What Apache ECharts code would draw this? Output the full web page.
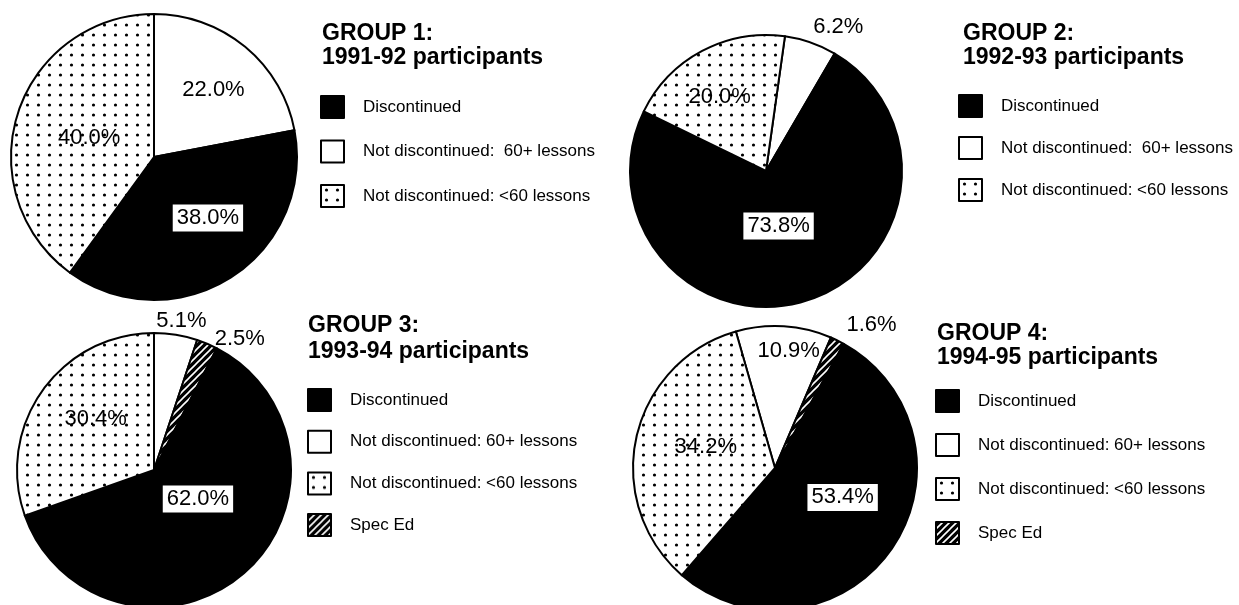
<!DOCTYPE html>
<html>
<head>
<meta charset="utf-8">
<script src="https://cdn.jsdelivr.net/npm/echarts@6/dist/echarts.min.js"></script>
<style>
  html, body { margin: 0; padding: 0; background: #fff; }
  #chart { width: 1239px; height: 605px; }
</style>
</head>
<body>
<div id="chart"></div>
<script>
// Group headings
const groupTitles = [
  'GROUP 1:\n1991-92 participants',
  'GROUP 2:\n1992-93 participants',
  'GROUP 3:\n1993-94 participants',
  'GROUP 4:\n1994-95 participants'
];

// Legend entries (groups 1-2 have three outcomes, groups 3-4 add Spec Ed)
const legendEarly = ['Discontinued', 'Not discontinued:  60+ lessons', 'Not discontinued: <60 lessons'];
const legendLate = ['Discontinued', 'Not discontinued: 60+ lessons', 'Not discontinued: <60 lessons', 'Spec Ed'];

// Slices listed clockwise from the starting edge, values in percent
const group1Names = [legendEarly[1], legendEarly[0], legendEarly[2]];
const group1Values = [22.0, 38.0, 40.0];

const group2Names = [legendEarly[1], legendEarly[0], legendEarly[2]];
const group2Values = [6.2, 73.8, 20.0];

const group3Names = [legendLate[1], legendLate[3], legendLate[0], legendLate[2]];
const group3Values = [5.1, 2.5, 62.0, 30.4];

const group4Names = [legendLate[1], legendLate[3], legendLate[0], legendLate[2]];
const group4Values = [10.9, 1.6, 53.4, 34.2];

// ---- fill patterns ----
function dotPattern() {
  const c = document.createElement('canvas');
  c.width = 11; c.height = 10;
  const g = c.getContext('2d');
  g.fillStyle = '#fff'; g.fillRect(0, 0, 11, 10);
  g.fillStyle = '#000';
  g.beginPath(); g.arc(5.5, 5, 1.6, 0, Math.PI * 2); g.fill();
  return { image: c, repeat: 'repeat' };
}
function hatchPattern() {
  const s = 7;
  const c = document.createElement('canvas');
  c.width = s; c.height = s;
  const g = c.getContext('2d');
  g.fillStyle = '#000'; g.fillRect(0, 0, s, s);
  g.strokeStyle = '#fff'; g.lineWidth = 1.6;
  g.beginPath();
  g.moveTo(0, s); g.lineTo(s, 0);
  g.moveTo(-1, 1); g.lineTo(1, -1);
  g.moveTo(s - 1, s + 1); g.lineTo(s + 1, s - 1);
  g.stroke();
  return { image: c, repeat: 'repeat' };
}
const DOTS = dotPattern();
const HATCH = hatchPattern();

function fillFor(name) {
  if (name === 'Discontinued') return '#000';
  if (name === 'Spec Ed') return HATCH;
  if (name.indexOf('<60') >= 0) return DOTS;
  return '#fff';
}

const PCT_FONT = { fontFamily: 'Liberation Sans', fontSize: 22, color: '#000' };

function buildData(names, values) {
  return names.map((n, i) => {
    const onBlack = n === 'Discontinued';
    return {
      name: n,
      value: values[i],
      itemStyle: { color: fillFor(n) },
      label: onBlack
        ? { backgroundColor: '#fff', padding: [3, 4, 2, 4] }
        : {}
    };
  });
}

// label nudges from the default inside position [dx, dy]
const labelShift = [
  [[12, -10], [14, -2], [6, 4]],
  [[49, -77], [-8, -13], [-13, -11]],
  [[16, -78], [58, -65], [-3, -25], [0, -10]],
  [[9, -43], [64, -77], [7, -13], [3, -5]]
];

function pieSeries(idx, names, values, center, r, startAngle) {
  return {
    type: 'pie',
    center: center,
    radius: [0, r],
    startAngle: startAngle,
    clockwise: true,
    avoidLabelOverlap: false,
    silent: true,
    animation: false,
    itemStyle: { borderColor: '#000', borderWidth: 2 },
    label: Object.assign({
      show: true,
      position: 'inside',
      formatter: p => p.value.toFixed(1) + '%'
    }, PCT_FONT),
    labelLine: { show: false },
    labelLayout: p => ({ dx: labelShift[idx][p.dataIndex][0], dy: labelShift[idx][p.dataIndex][1] }),
    emphasis: { disabled: true },
    data: buildData(names, values)
  };
}

const titleStyle = { fontFamily: 'Liberation Sans', fontSize: 23, fontWeight: 'bold', color: '#000', lineHeight: 24 };
const legendText = { fontFamily: 'Liberation Sans', fontSize: 17, color: '#000', padding: [0, 0, 0, 14] };

function legendAt(left, top, gap, data) {
  return {
    orient: 'vertical',
    left: left, top: top,
    padding: 0,
    icon: 'rect',
    itemWidth: 23, itemHeight: 22,
    itemGap: gap,
    selectedMode: false,
    data: data,
    itemStyle: { borderColor: '#000', borderWidth: 2 },
    textStyle: legendText
  };
}

const chart = echarts.init(document.getElementById('chart'), null, { renderer: 'canvas' });
chart.setOption({
  backgroundColor: '#fff',
  animation: false,
  title: [
    { text: groupTitles[0], left: 322, top: 22, padding: 0, textStyle: titleStyle },
    { text: groupTitles[1], left: 963, top: 22, padding: 0, textStyle: titleStyle },
    { text: groupTitles[2], left: 308, top: 313, padding: 0, textStyle: Object.assign({}, titleStyle, { lineHeight: 26 }) },
    { text: groupTitles[3], left: 937, top: 322, padding: 0, textStyle: titleStyle }
  ],
  legend: [
    legendAt(320, 95, 20.5, legendEarly),
    legendAt(958, 94, 18, legendEarly),
    legendAt(307, 388, 17.7, legendLate),
    legendAt(935, 389, 20, legendLate)
  ],
  series: [
    pieSeries(0, group1Names, group1Values, [154, 157], 143, 90),
    pieSeries(1, group2Names, group2Values, [766, 171], 136, 82),
    pieSeries(2, group3Names, group3Values, [154, 470], 137, 90),
    pieSeries(3, group4Names, group4Values, [775, 468], 142, 106)
  ]
});
</script>
</body>
</html>
